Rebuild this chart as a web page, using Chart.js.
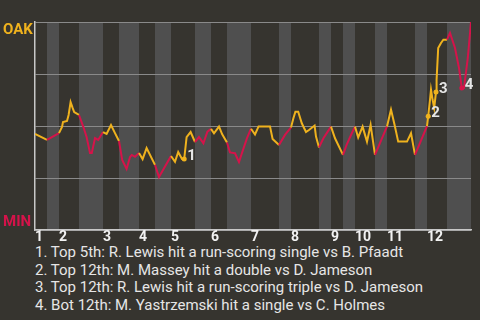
<!DOCTYPE html>
<html>
<head>
<meta charset="utf-8">
<script src="https://cdn.jsdelivr.net/npm/chart.js@4.4.1/dist/chart.umd.min.js"></script>
<style>
  html, body { margin: 0; padding: 0; background: #36342f; }
  body { width: 480px; height: 320px; overflow: hidden; font-family: Roboto, sans-serif; }
  #wrap { position: relative; width: 480px; height: 244px; }
  #notes { margin: 0; padding-left: 35px; color: #e6e6e6; font-size: 15px; line-height: 17.7px; white-space: nowrap; }
</style>
</head>
<body>
<div id="wrap"><canvas id="wpChart"></canvas></div>
<div id="notes"></div>
<script>
// plate appearances per half inning (top 1st, bot 1st, top 2nd, ...)
const halfInningPAs = [3, 3, 5, 6, 4, 5, 4, 4, 6, 4, 4, 6, 7, 3, 7, 3, 3, 3, 5, 3, 7, 3, 5, 6];
const inningLabels = ['1', '2', '3', '4', '5', '6', '7', '8', '9', '10', '11', '12'];

// game progress (plate appearances) and OAK win probability (%)
const progress = [
    0, 3, 6, 6.75, 7, 8, 8.4, 8.9, 9.4, 9.8,
    11, 12.1, 12.9, 13.75, 14.2, 15, 15.8, 17, 17.9, 19,
    20, 21, 21.8, 22.9, 23.75, 24.2, 25, 26, 26.9, 27.9,
    30, 31, 34, 35, 35.8, 36.75, 37.3, 37.9, 38.9, 40,
    41, 42.1, 43.1, 44, 44.75, 46, 46.8, 48, 48.75, 50,
    51, 52, 53, 54, 55, 55.9, 58.75, 59.4, 61, 62.5,
    64, 64.6, 65.1, 65.8, 66.7, 67.75, 68.5, 69.9, 70.25, 71,
    72.1, 74, 75, 77, 77.9, 79.2, 80, 80.8, 81.9, 83,
    83.9, 85, 88, 89, 89.9, 90.8, 93, 94, 95, 98,
    98.3, 98.75, 99, 99.4, 99.8, 100.25, 100.4, 100.8, 101.5, 102.1,
    103, 103.75, 105, 106, 106.7, 107.25, 108.2, 109
];
const oakWinProb = [
    46.2, 43.3, 46.6, 49.5, 51.9, 52.4, 55.3, 61.5, 58.7, 56.7,
    55.3, 49.5, 44.7, 37.0, 37.0, 44.2, 43.3, 47.1, 46.2, 50.5,
    46.6, 42.8, 33.7, 29.3, 35.1, 36.1, 35.2, 37.0, 34.1, 39.4,
    31.3, 25.5, 35.6, 32.8, 37.5, 34.1, 34.1, 44.7, 47.1, 42.3,
    44.7, 41.7, 47.3, 48.6, 46.5, 49.7, 46.0, 42.1, 37.3, 36.9,
    32.7, 38.5, 44.2, 48.7, 45.9, 49.8, 49.8, 43.8, 40.9, 45.7,
    49.3, 53.7, 56.9, 56.9, 51.3, 47.1, 48.1, 50.2, 44.9, 39.7,
    44.1, 49.7, 44.1, 36.1, 40.9, 46.5, 49.7, 44.5, 49.7, 42.5,
    50.5, 36.1, 49.8, 57.9, 50.5, 42.5, 42.5, 46.5, 36.1, 49.9,
    54.7, 62.6, 67.5, 62.6, 58.7, 66.3, 72.3, 87.5, 89.9, 91.5,
    91.5, 94.7, 87.5, 77.9, 68.3, 68.3, 82.7, 100
];

// key plays: point index and description
const keyPlayIndex = [36, 90, 95, 104];
const keyPlays = [
    'Top 5th: R. Lewis hit a run-scoring single vs B. Pfaadt',
    'Top 12th: M. Massey hit a double vs D. Jameson',
    'Top 12th: R. Lewis hit a run-scoring triple vs D. Jameson',
    'Bot 12th: M. Yastrzemski hit a single vs C. Holmes'
];

const OAK_COLOR = '#efb21e';
const MIN_COLOR = '#d5134a';
const BAND_COLOR = '#4f4f4f';

// half-inning boundaries
const bounds = [0];
halfInningPAs.forEach(n => bounds.push(bounds[bounds.length - 1] + n));
const inningStarts = bounds.filter((b, i) => i % 2 === 0 && i < bounds.length - 1);
const totalPAs = bounds[bounds.length - 1];

function halfAt(v) {
    for (let i = 0; i < halfInningPAs.length; i++) {
        if (v < bounds[i + 1]) return i;
    }
    return halfInningPAs.length - 1;
}
function colorAt(v) {
    return halfAt(v) % 2 === 0 ? OAK_COLOR : MIN_COLOR;
}

document.getElementById('notes').innerHTML =
    keyPlays.map((t, i) => '<div>' + (i + 1) + '. ' + t + '</div>').join('');

const bandsPlugin = {
    id: 'halfInningBands',
    beforeDraw(chart) {
        const { ctx, chartArea, scales: { x } } = chart;
        ctx.save();
        ctx.fillStyle = BAND_COLOR;
        halfInningPAs.forEach((n, i) => {
            if (i % 2 === 1) {
                const x0 = x.getPixelForValue(bounds[i]);
                const x1 = x.getPixelForValue(bounds[i + 1]);
                ctx.fillRect(x0, chartArea.top, x1 - x0, chartArea.bottom - chartArea.top);
            }
        });
        ctx.restore();
    }
};

const labelsPlugin = {
    id: 'teamAndPlayLabels',
    afterDraw(chart) {
        const { ctx, scales: { y } } = chart;
        const meta = chart.getDatasetMeta(0);
        ctx.save();
        ctx.font = 'bold 15px Roboto';
        ctx.textAlign = 'left';
        ctx.textBaseline = 'alphabetic';
        ctx.fillStyle = OAK_COLOR;
        ctx.fillText('OAK', 3, y.getPixelForValue(100) + 12);
        ctx.fillStyle = MIN_COLOR;
        ctx.fillText('MIN', 3, y.getPixelForValue(0) - 4.5);

        ctx.fillStyle = '#e6e6e6';
        keyPlayIndex.forEach((idx, i) => {
            const pt = meta.data[idx];
            ctx.fillText(String(i + 1), pt.x + 3, pt.y + 1);
        });
        ctx.restore();
    }
};

new Chart(document.getElementById('wpChart'), {
    type: 'line',
    data: {
        datasets: [{
            data: progress.map((p, i) => ({ x: p, y: oakWinProb[i] })),
            borderWidth: 2,
            tension: 0,
            pointRadius: ctx => keyPlayIndex.includes(ctx.dataIndex) ? 2.5 : 0,
            pointBorderWidth: 0,
            pointBackgroundColor: ctx => colorAt(progress[ctx.dataIndex] - 0.01),
            segment: {
                borderColor: ctx => colorAt((ctx.p0.parsed.x + ctx.p1.parsed.x) / 2)
            }
        }]
    },
    plugins: [bandsPlugin, labelsPlugin],
    options: {
        responsive: true,
        maintainAspectRatio: false,
        animation: false,
        layout: {
            padding: { left: 35, right: 9, top: 22, bottom: 0 }
        },
        plugins: {
            legend: { display: false },
            tooltip: { enabled: false }
        },
        scales: {
            x: {
                type: 'linear',
                min: 0,
                max: totalPAs,
                afterBuildTicks: scale => {
                    scale.ticks = inningStarts.map(v => ({ value: v }));
                },
                grid: { display: false, drawTicks: false },
                border: { display: true, color: '#c8c8c8', width: 1.5 },
                ticks: {
                    align: 'start',
                    autoSkip: false,
                    maxRotation: 0,
                    padding: 0,
                    color: '#f2f2f2',
                    font: { family: 'Roboto', size: 14, weight: 'bold', lineHeight: 1 },
                    callback: (v, i) => inningLabels[i]
                }
            },
            y: {
                min: 0,
                max: 100,
                ticks: { display: false, stepSize: 25 },
                grid: { color: '#8a8a8a', lineWidth: 1, drawTicks: false },
                border: { display: true, color: '#c8c8c8', width: 1.5 }
            }
        }
    }
});
</script>
</body>
</html>
